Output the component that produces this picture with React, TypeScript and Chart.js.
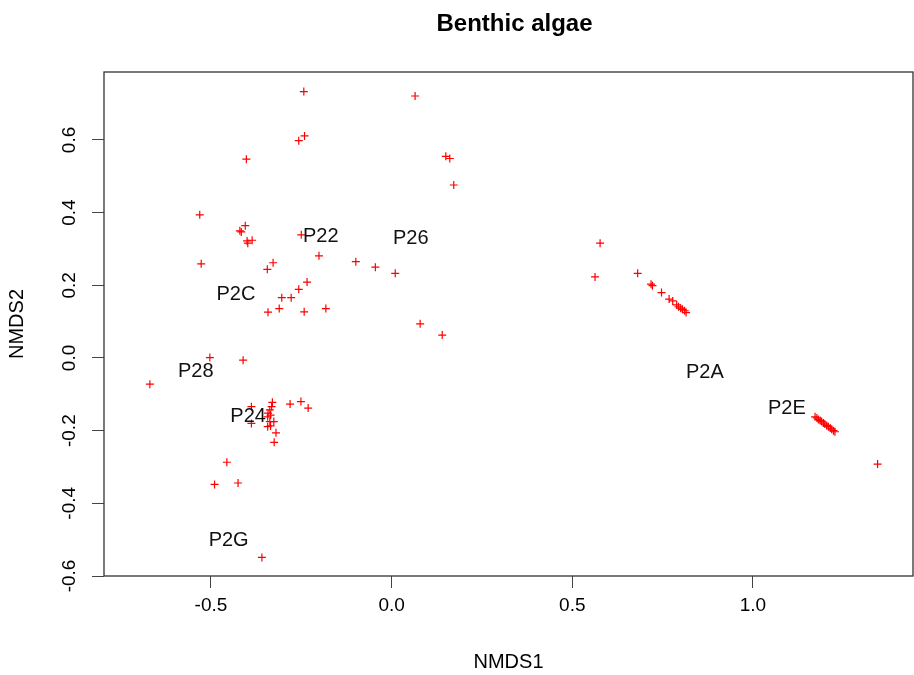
import React, { useEffect, useRef } from "react";
import { Chart, registerables } from "chart.js";

Chart.register(...registerables);

const chartTitle = "Benthic algae";
const xTitle = "NMDS1";
const yTitle = "NMDS2";

const nmds1 = [
  -0.243, -0.241, -0.257, -0.402, -0.531, -0.405, -0.42, -0.416, -0.4, -0.386,
  -0.398, -0.25, -0.201, -0.527, -0.328, -0.344, -0.099, -0.045, 0.01, -0.234,
  -0.257, -0.304, -0.278, -0.342, -0.311, -0.242, -0.182, -0.503, -0.411, -0.669,
  -0.388, -0.33, -0.332, -0.337, -0.342, -0.335, -0.343, -0.281, -0.251, -0.231,
  -0.388, -0.337, -0.326, -0.343, -0.335, -0.32, -0.325, -0.456, -0.49, -0.425,
  -0.359, 0.065, 0.15, 0.161, 0.172, 0.079, 0.14,
  0.577, 0.563, 0.681, 0.718, 0.722, 0.747, 0.768, 0.778, 0.789, 0.794, 0.8, 0.805, 0.811, 0.815,
  1.172, 1.177, 1.181, 1.186, 1.19, 1.195, 1.199, 1.204, 1.209, 1.214, 1.218, 1.223, 1.227,
  1.345,
];

const nmds2 = [
  0.733, 0.611, 0.598, 0.547, 0.394, 0.364, 0.35, 0.347, 0.322, 0.324,
  0.316, 0.339, 0.281, 0.259, 0.262, 0.244, 0.265, 0.25, 0.233, 0.209,
  0.189, 0.166, 0.166, 0.126, 0.136, 0.127, 0.136, 0.001, -0.006, -0.072,
  -0.134, -0.122, -0.134, -0.143, -0.152, -0.157, -0.162, -0.127, -0.12, -0.138,
  -0.18, -0.175, -0.175, -0.189, -0.187, -0.206, -0.232, -0.287, -0.348, -0.344,
  -0.549, 0.721, 0.555, 0.549, 0.476, 0.094, 0.063,
  0.316, 0.223, 0.233, 0.203, 0.199, 0.18, 0.162, 0.157, 0.146, 0.141, 0.137, 0.134, 0.13, 0.125,
  -0.162, -0.165, -0.169, -0.172, -0.175, -0.179, -0.182, -0.186, -0.189, -0.193, -0.196, -0.2, -0.203,
  -0.292,
];

const siteLabels = ["P22", "P26", "P2C", "P28", "P24", "P2A", "P2E", "P2G"];
const siteX = [-0.196, 0.053, -0.431, -0.542, -0.397, 0.867, 1.094, -0.451];
const siteY = [0.333, 0.328, 0.176, -0.036, -0.162, -0.041, -0.138, -0.501];

const xTicks = [-0.5, 0.0, 0.5, 1.0];
const yTicks = [-0.6, -0.4, -0.2, 0.0, 0.2, 0.4, 0.6];

const FONT = "'Liberation Sans', Arial, Helvetica, sans-serif";

export default function App() {
  const canvasRef = useRef<HTMLCanvasElement | null>(null);

  useEffect(() => {
    const canvas = canvasRef.current;
    if (!canvas) return;

    const decor = {
      id: "decor",
      afterDraw(chart: any) {
        const ctx = chart.ctx;
        const area = chart.chartArea;
        const xs = chart.scales.x;
        const ys = chart.scales.y;
        ctx.save();
        // box
        ctx.strokeStyle = "#333";
        ctx.lineWidth = 1.3;
        ctx.strokeRect(area.left, area.top, area.right - area.left, area.bottom - area.top);

        // y tick labels rotated
        ctx.fillStyle = "#000";
        ctx.font = `19px ${FONT}`;
        ctx.textAlign = "center";
        ctx.textBaseline = "middle";
        yTicks.forEach((v) => {
          const py = ys.getPixelForValue(v);
          ctx.save();
          ctx.translate(70, py);
          ctx.rotate(-Math.PI / 2);
          ctx.fillText(v.toFixed(1), 0, 0);
          ctx.restore();
        });

        // title
        ctx.font = `bold 24px ${FONT}`;
        ctx.fillText(chartTitle, (area.left + area.right) / 2 + 6, 24);

        // axis titles
        ctx.font = `20px ${FONT}`;
        ctx.fillText(xTitle, (area.left + area.right) / 2, 662);
        ctx.save();
        ctx.translate(17, (area.top + area.bottom) / 2);
        ctx.rotate(-Math.PI / 2);
        ctx.fillText(yTitle, 0, 0);
        ctx.restore();

        // site labels
        ctx.font = `20px ${FONT}`;
        ctx.fillStyle = "#111";
        siteLabels.forEach((lab, i) => {
          ctx.fillText(lab, xs.getPixelForValue(siteX[i]), ys.getPixelForValue(siteY[i]));
        });
        ctx.restore();
      },
    };

    const chart = new Chart(canvas, {
      type: "scatter",
      data: {
        datasets: [
          {
            data: nmds1.map((x, i) => ({ x, y: nmds2[i] })),
            pointStyle: "cross",
            pointRadius: 4,
            pointHoverRadius: 4,
            pointBorderWidth: 1.2,
            borderColor: "#ff0000",
            backgroundColor: "#ff0000",
          },
        ],
      },
      options: {
        animation: false,
        responsive: false,
        maintainAspectRatio: false,
        events: [],
        layout: { autoPadding: false, padding: { top: 72, right: 1, left: 0, bottom: 0 } },
        plugins: {
          legend: { display: false },
          tooltip: { enabled: false },
          title: { display: false },
        },
        scales: {
          x: {
            type: "linear",
            min: -0.796,
            max: 1.443,
            afterBuildTicks: (s: any) => {
              s.ticks = xTicks.map((v) => ({ value: v }));
            },
            afterFit: (s: any) => {
              s.height = 99;
              s.paddingLeft = 0;
              s.paddingRight = 0;
            },
            grid: { drawOnChartArea: false, drawTicks: true, tickLength: 12, color: "#444", lineWidth: 1 },
            border: { display: false },
            ticks: {
              font: { family: FONT, size: 19 },
              color: "#000",
              padding: 6,
              maxRotation: 0,
              autoSkip: false,
              callback: (v: any) => Number(v).toFixed(1),
            },
          },
          y: {
            type: "linear",
            min: -0.6,
            max: 0.787,
            afterBuildTicks: (s: any) => {
              s.ticks = yTicks.map((v) => ({ value: v }));
            },
            afterFit: (s: any) => {
              s.width = 104;
              s.paddingTop = 0;
              s.paddingBottom = 0;
            },
            grid: { drawOnChartArea: false, drawTicks: true, tickLength: 12, color: "#444", lineWidth: 1 },
            border: { display: false },
            ticks: { display: false },
          },
        },
      },
      plugins: [decor],
    });

    return () => {
      chart.destroy();
    };
  }, []);

  return (
    <div style={{ position: "absolute", left: 0, top: 0, width: 914, height: 675, background: "#fff" }}>
      <canvas ref={canvasRef} width={914} height={675} style={{ display: "block" }} />
    </div>
  );
}
